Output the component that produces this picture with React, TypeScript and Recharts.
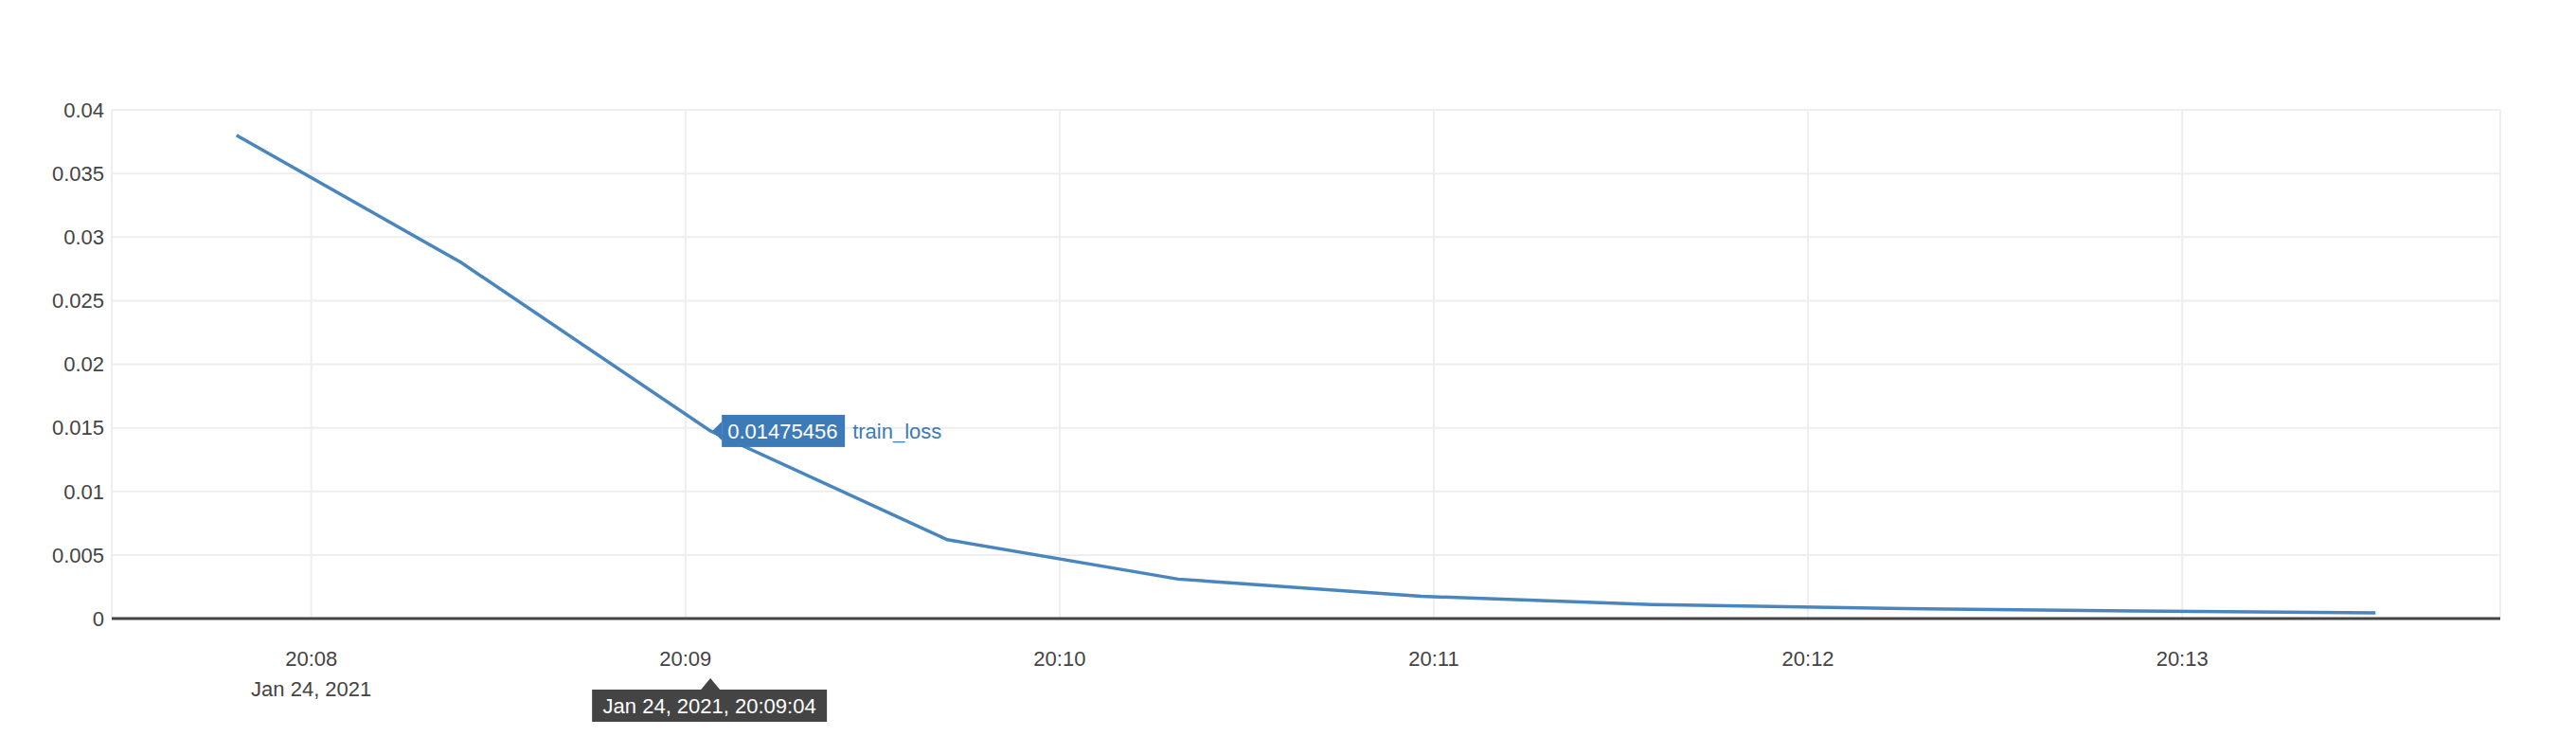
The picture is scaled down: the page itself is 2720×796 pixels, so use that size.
import { CartesianGrid, Line, LineChart, ReferenceDot, ReferenceLine, XAxis, YAxis } from 'recharts';

// seconds since 20:00 on Jan 24, 2021
const times = [468, 504, 544, 582, 619, 658, 695, 733, 772, 811];
const trainLoss = [0.038, 0.028, 0.01475456, 0.0062, 0.0031, 0.00175, 0.0011, 0.0008, 0.0006, 0.00045];
const xTicks = [480, 540, 600, 660, 720, 780];
const yTicks = [0, 0.005, 0.01, 0.015, 0.02, 0.025, 0.03, 0.035, 0.04];
const hoverIndex = 2;
const hoverTimeLabel = 'Jan 24, 2021, 20:09:04';

const data = times.map((t, i) => ({ t, train_loss: trainLoss[i] }));

const fmtTime = (s: number) => `20:${String(Math.floor(s / 60)).padStart(2, '0')}`;
const font = '"Liberation Sans", Arial, sans-serif';
const chartH = 780;
const bottom = 105;

function XTick(props: any) {
  const { x, y, payload } = props;
  return (
    <g>
      <text x={x} y={y + 42} textAnchor='middle' fill='#444' fontSize={22} fontFamily={font}>
        {fmtTime(payload.value)}
      </text>
      {payload.index === 0 && (
        <text x={x} y={y + 74} textAnchor='middle' fill='#444' fontSize={22} fontFamily={font}>
          Jan 24, 2021
        </text>
      )}
    </g>
  );
}

function HoverMarks(props: any) {
  const { cx, cy } = props;
  const axisY = chartH - bottom;
  return (
    <g fontFamily={font}>
      <path d={`M${cx + 2},${cy} L${cx + 12},${cy - 10} L${cx + 12},${cy + 10} Z`} fill='#3d7ab8' />
      <rect x={cx + 12} y={cy - 17} width={130} height={34} fill='#3d7ab8' />
      <text x={cx + 18} y={cy + 8} fill='#fff' fontSize={22}>0.01475456</text>
      <text x={cx + 150} y={cy + 8} fill='#3d7ab8' fontSize={22}>train_loss</text>
      <path d={`M${cx},${axisY + 33} L${cx - 10},${axisY + 45} L${cx + 10},${axisY + 45} Z`} fill='#444' />
      <rect x={cx - 125} y={axisY + 45} width={248} height={34} fill='#444' />
      <text x={cx - 1} y={axisY + 70} textAnchor='middle' fill='#fff' fontSize={22}>
        {hoverTimeLabel}
      </text>
    </g>
  );
}

export default function App() {
  return (
    <LineChart
      width={2704}
      height={chartH}
      data={data}
      margin={{ top: 108, right: 72, bottom, left: 50 }}
      style={{ background: '#fff' }}
    >
      <CartesianGrid stroke='#eee' strokeWidth={2} />
      <XAxis
        dataKey='t'
        type='number'
        domain={[448, 831]}
        ticks={xTicks}
        tick={<XTick />}
        axisLine={false}
        tickLine={false}
        interval={0}
      />
      <YAxis
        width={60}
        domain={[0, 0.04]}
        ticks={yTicks}
        axisLine={false}
        tickLine={false}
        tick={{ fill: '#444', fontSize: 22, fontFamily: font }}
        tickFormatter={(v: number) => String(v)}
        interval={0}
      />
      <ReferenceLine y={0} stroke='#444' strokeWidth={3} />
      <Line
        dataKey='train_loss'
        stroke='#4a86be'
        strokeWidth={3.5}
        dot={false}
        activeDot={false}
        isAnimationActive={false}
      />
      <ReferenceDot
        x={times[hoverIndex]}
        y={trainLoss[hoverIndex]}
        r={0}
        ifOverflow='visible'
        shape={<HoverMarks />}
      />
    </LineChart>
  );
}
